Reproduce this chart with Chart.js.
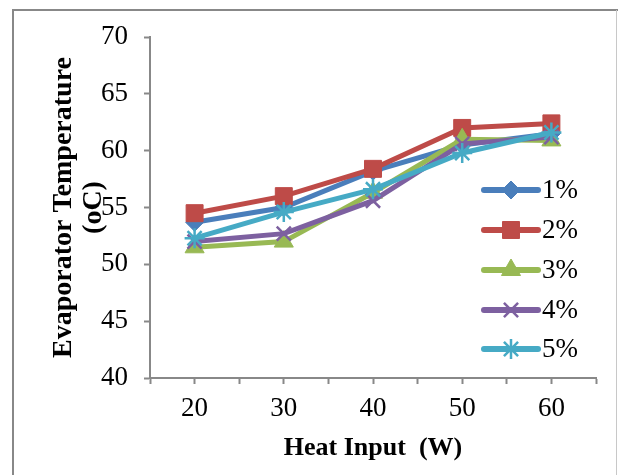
<!DOCTYPE html>
<html>
<head>
<meta charset="utf-8">
<script src="https://cdn.jsdelivr.net/npm/chart.js@4.4.0/dist/chart.umd.min.js"></script>
<style>
  html, body { margin: 0; padding: 0; background: #fff; }
  #wrap { width: 618px; height: 475px; position: relative; }
</style>
</head>
<body>
<div id="wrap"><canvas id="myChart"></canvas></div>
<script>
/////////////////////////////
// Data
/////////////////////////////

const heatInput = [20, 30, 40, 50, 60];
const seriesNames = ['1%', '2%', '3%', '4%', '5%'];
const temp1 = [53.7, 55.0, 58.2, 60.5, 61.5];
const temp2 = [54.5, 56.0, 58.4, 62.0, 62.4];
const temp3 = [51.5, 52.0, 56.3, 61.0, 60.9];
const temp4 = [52.0, 52.7, 55.6, 60.6, 61.2];
const temp5 = [52.3, 54.6, 56.6, 59.8, 61.6];
const xTicks = [20, 30, 40, 50, 60];
const yTicks = [40, 45, 50, 55, 60, 65, 70];

const colors = ['#4A7EBB', '#BE4B48', '#98B954', '#7D60A0', '#46AAC5'];
const styles = ['rectRot', 'rect', 'triangle', 'crossRot', 'star'];
const radii = [9, 12, 11, 10, 10];
const allTemps = [temp1, temp2, temp3, temp4, temp5];

/////////////////////////////
// Plugins
/////////////////////////////

// white page + frame lines
const framePlugin = {
  id: 'frame',
  beforeDraw(chart) {
    const c = chart.ctx;
    c.save();
    c.fillStyle = '#fff';
    c.fillRect(0, 0, chart.width, chart.height);
    c.strokeStyle = '#888';
    c.lineWidth = 2;
    c.beginPath();
    c.moveTo(13, 475);
    c.lineTo(13, 10);
    c.lineTo(618, 10);
    c.stroke();
    c.strokeStyle = '#c8c8c8';
    c.lineWidth = 1;
    c.beginPath();
    c.moveTo(616.5, 10);
    c.lineTo(616.5, 475);
    c.stroke();
    c.restore();
  }
};

// legend inside the plot area
const legendPlugin = {
  id: 'innerLegend',
  afterDraw(chart) {
    const c = chart.ctx;
    const rows = [190, 230, 270, 310, 349];
    c.save();
    chart.data.datasets.forEach((ds, i) => {
      const y = rows[i];
      c.strokeStyle = ds.borderColor;
      c.lineWidth = 6;
      c.lineCap = 'round';
      c.beginPath();
      c.moveTo(484, y);
      c.lineTo(538, y);
      c.stroke();
      c.lineCap = 'butt';
      c.fillStyle = ds.backgroundColor;
      c.strokeStyle = ds.borderColor;
      c.lineWidth = ds.pointBorderWidth;
      Chart.helpers.drawPoint(c, { pointStyle: ds.pointStyle, radius: ds.pointRadius, borderWidth: ds.pointBorderWidth, rotation: 0 }, 511, y);
      c.fillStyle = '#000';
      c.font = '27px "Liberation Serif"';
      c.textBaseline = 'middle';
      c.textAlign = 'left';
      c.fillText(ds.label, 542, y + 1);
    });
    c.restore();
  }
};

/////////////////////////////
// Chart
/////////////////////////////

const ctx = document.getElementById('myChart').getContext('2d');
const myChart = new Chart(ctx, {
  type: 'line',
  data: {
    datasets: allTemps.map((vals, i) => ({
      label: seriesNames[i],
      data: heatInput.map((x, j) => ({ x: x, y: vals[j] })),
      borderColor: colors[i],
      backgroundColor: colors[i],
      borderWidth: 5,
      pointStyle: styles[i],
      pointRadius: radii[i],
      pointBorderWidth: (i >= 3) ? 2.5 : 1,
      pointHoverRadius: radii[i],
      order: 5 - i,
      tension: 0
    }))
  },
  options: {
    responsive: true,
    maintainAspectRatio: false,
    animation: false,
    layout: { padding: { left: 0, right: 22, top: 37, bottom: 0 } },
    plugins: {
      legend: { display: false },
      tooltip: { enabled: false }
    },
    scales: {
      x: {
        type: 'linear',
        min: 15,
        max: 65,
        afterBuildTicks: (scale) => {
          const t = [];
          for (let v = 15; v <= 65; v += 5) t.push({ value: v });
          scale.ticks = t;
        },
        afterFit: (scale) => { scale.height = 97; },
        ticks: {
          autoSkip: false,
          maxRotation: 0,
          padding: 9,
          color: '#000',
          font: { family: '"Liberation Serif"', size: 27 },
          callback: (v) => xTicks.includes(v) ? String(v) : ''
        },
        grid: { drawOnChartArea: false, drawTicks: true, tickLength: 6, tickWidth: 2, color: '#888' },
        border: { color: '#888', width: 2 },
        title: {
          display: true,
          text: 'Heat Input  (W)',
          color: '#000',
          font: { family: '"Liberation Serif"', size: 26, weight: 'bold' },
          padding: { top: 0, bottom: 11 }
        }
      },
      y: {
        min: 40,
        max: 70,
        afterBuildTicks: (scale) => { scale.ticks = yTicks.map(v => ({ value: v })); },
        afterFit: (scale) => { scale.width = 150; },
        ticks: {
          padding: 16,
          color: '#000',
          font: { family: '"Liberation Serif"', size: 27 }
        },
        grid: { drawOnChartArea: false, drawTicks: true, tickLength: 6, tickWidth: 2, color: '#888' },
        border: { color: '#888', width: 2 },
        title: {
          display: true,
          text: ['Evaporator Temperature', '(oC)'],
          color: '#000',
          font: { family: '"Liberation Serif"', size: 28, weight: 'bold', lineHeight: 1.1 },
          padding: { top: 48, bottom: 0 }
        }
      }
    }
  },
  plugins: [framePlugin, legendPlugin]
});
</script>
</body>
</html>
